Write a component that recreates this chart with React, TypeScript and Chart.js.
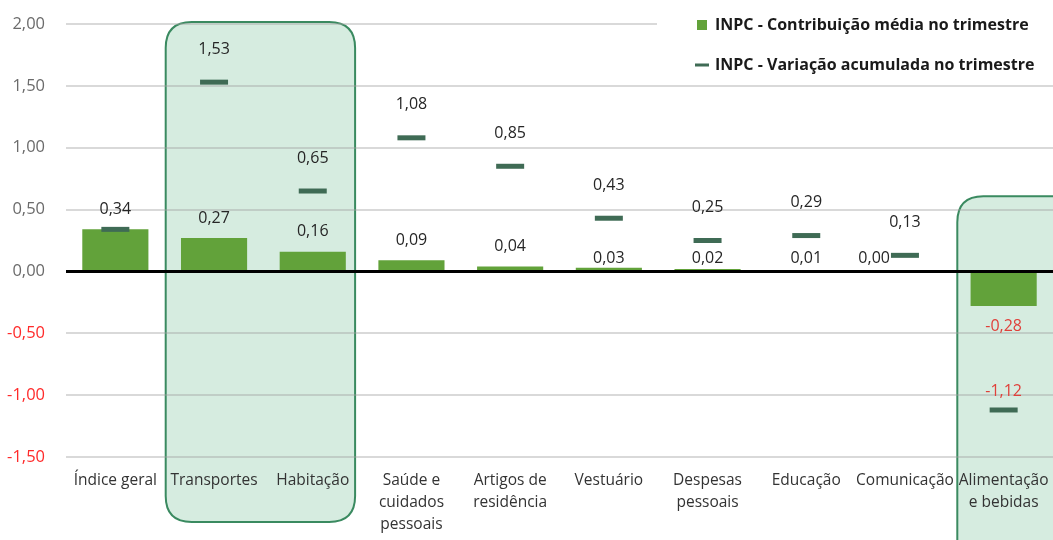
import React, { useEffect, useRef } from "react";
import { Chart, registerables } from "chart.js";

Chart.register(...registerables);

const categories: string[][] = [
  ["Índice geral"],
  ["Transportes"],
  ["Habitação"],
  ["Saúde e", "cuidados", "pessoais"],
  ["Artigos de", "residência"],
  ["Vestuário"],
  ["Despesas", "pessoais"],
  ["Educação"],
  ["Comunicação"],
  ["Alimentação", "e bebidas"],
];
const contribution = [0.34, 0.27, 0.16, 0.09, 0.04, 0.03, 0.02, 0.01, 0.0, -0.28];
const accumulated = [0.34, 1.53, 0.65, 1.08, 0.85, 0.43, 0.25, 0.29, 0.13, -1.12];
const legendLabels = [
  "INPC - Contribuição média no trimestre",
  "INPC - Variação acumulada no trimestre",
];
const yMin = -1.5;
const yMax = 2.0;
const yStep = 0.5;

const BAR_COLOR = "#62a23a";
const DASH_COLOR = "#3f6b55";
const POS_TEXT = "#262626";
const NEG_TEXT = "#e0403a";
const FONT = "'Open Sans', Lato, sans-serif";

const fmt = (v: number) => v.toFixed(2).replace(".", ",");

function roundRect(ctx: CanvasRenderingContext2D, x: number, y: number, w: number, h: number, r: number) {
  ctx.beginPath();
  ctx.moveTo(x + r, y);
  ctx.lineTo(x + w - r, y);
  ctx.quadraticCurveTo(x + w, y, x + w, y + r);
  ctx.lineTo(x + w, y + h - r);
  ctx.quadraticCurveTo(x + w, y + h, x + w - r, y + h);
  ctx.lineTo(x + r, y + h);
  ctx.quadraticCurveTo(x, y + h, x, y + h - r);
  ctx.lineTo(x, y + r);
  ctx.quadraticCurveTo(x, y, x + r, y);
  ctx.closePath();
}

const decorPlugin = {
  id: "decor",
  beforeDraw(chart: any) {
    const { ctx, scales } = chart;
    const xs = scales.x;
    const ys = scales.y;
    ctx.save();
    const boxes = [
      { x0: xs.getPixelForValue(0.5) + 1, x1: xs.getPixelForValue(2.5) - 7, y0: ys.getPixelForValue(2.0) - 2, y1: 522 },
      { x0: xs.getPixelForValue(8.5) + 3, x1: chart.width + 30, y0: ys.getPixelForValue(0.6) - 1, y1: chart.height + 30 },
    ];
    for (const b of boxes) {
      roundRect(ctx, b.x0, b.y0, b.x1 - b.x0, b.y1 - b.y0, 26);
      ctx.fillStyle = "#d6ece0";
      ctx.fill();
      ctx.lineWidth = 2;
      ctx.strokeStyle = "#3a8a60";
      ctx.stroke();
    }
    ctx.restore();
  },
  afterDatasetsDraw(chart: any) {
    const { ctx, scales, chartArea } = chart;
    const ys = scales.y;
    const xs = scales.x;
    const y0 = ys.getPixelForValue(0);
    ctx.save();
    ctx.beginPath();
    ctx.moveTo(chartArea.left, y0);
    ctx.lineTo(chartArea.right, y0);
    ctx.lineWidth = 3;
    ctx.strokeStyle = "#000";
    ctx.stroke();

    ctx.font = `16px ${FONT}`;
    ctx.textAlign = "center";
    ctx.textBaseline = "middle";
    contribution.forEach((v, i) => {
      const cx = xs.getPixelForValue(i);
      const barEnd = ys.getPixelForValue(v);
      const dashY = ys.getPixelForValue(accumulated[i]);
      const text = fmt(v);
      const w = ctx.measureText(text).width;
      let by: number;
      if (v < 0) by = barEnd + 20;
      else if (v <= 0.03) by = y0 - 13;
      else by = barEnd - 20;
      let bx = cx;
      if (Math.abs(by - dashY) < 8) bx = cx - 14 - w / 2 - 1;
      ctx.fillStyle = v < 0 ? NEG_TEXT : POS_TEXT;
      ctx.fillText(text, bx, by);

      const a = accumulated[i];
      const ly = a >= 0 ? dashY - 33 : dashY - 19;
      if (Math.abs(ly - by) < 16 && Math.abs(bx - cx) < w) return;
      ctx.fillStyle = a < 0 ? NEG_TEXT : POS_TEXT;
      ctx.fillText(fmt(a), cx, ly);
    });
    ctx.restore();
  },
  afterDraw(chart: any) {
    const { ctx } = chart;
    ctx.save();
    ctx.fillStyle = "#fff";
    ctx.fillRect(657, 4, chart.width - 657, 76);
    ctx.font = `bold 16px ${FONT}`;
    ctx.textAlign = "left";
    ctx.textBaseline = "middle";
    ctx.fillStyle = BAR_COLOR;
    ctx.fillRect(697, 20, 10, 10);
    ctx.fillStyle = "#1a1a1a";
    ctx.fillText(legendLabels[0], 715, 25);
    ctx.beginPath();
    ctx.moveTo(695, 65);
    ctx.lineTo(709, 65);
    ctx.lineWidth = 3;
    ctx.strokeStyle = DASH_COLOR;
    ctx.stroke();
    ctx.fillStyle = "#1a1a1a";
    ctx.fillText(legendLabels[1], 715, 65);
    ctx.restore();
  },
};

export default function App() {
  const ref = useRef<HTMLCanvasElement | null>(null);
  useEffect(() => {
    document.body.style.margin = "0";
    const canvas = ref.current!;
    const chart = new Chart(canvas, {
      type: "bar",
      data: {
        labels: categories,
        datasets: [
          {
            type: "bar",
            label: legendLabels[0],
            data: contribution,
            backgroundColor: BAR_COLOR,
            categoryPercentage: 1,
            barPercentage: 0.67,
            order: 2,
          },
          {
            type: "line",
            label: legendLabels[1],
            data: accumulated,
            showLine: false,
            pointStyle: "line",
            pointRadius: 14,
            pointHoverRadius: 14,
            pointBorderWidth: 5,
            pointHoverBorderWidth: 5,
            borderColor: DASH_COLOR,
            backgroundColor: DASH_COLOR,
            order: 1,
          } as any,
        ],
      },
      options: {
        responsive: false,
        animation: false,
        layout: { autoPadding: false, padding: { top: 24, right: 0, bottom: 0, left: 0 } },
        plugins: {
          legend: { display: false },
          tooltip: { enabled: false },
        },
        scales: {
          x: {
            grid: { display: false },
            border: { display: false },
            ticks: {
              color: "#333333",
              font: { family: FONT, size: 15.5, lineHeight: 1.42 },
              padding: 5,
              maxRotation: 0,
              autoSkip: false,
            },
            afterFit: (s: any) => {
              s.height = 83;
              s.paddingLeft = 0;
              s.paddingRight = 0;
            },
          },
          y: {
            min: yMin,
            max: yMax,
            border: { display: false },
            grid: {
              drawTicks: false,
              lineWidth: 2,
              color: (c: any) => (c.tick && c.tick.value === 0 ? "rgba(0,0,0,0)" : "rgba(160,160,160,0.4)"),
            },
            ticks: {
              stepSize: yStep,
              padding: 21,
              font: { family: FONT, size: 16.5 },
              color: (c: any) => (c.tick && c.tick.value < 0 ? "#ff2a2a" : "#6b6b6b"),
              callback: (v: any) => fmt(Number(v)),
            },
            afterFit: (s: any) => {
              s.width = 66;
              s.paddingTop = 0;
              s.paddingBottom = 0;
            },
          },
        },
      },
      plugins: [decorPlugin],
    });
    return () => chart.destroy();
  }, []);
  return <canvas ref={ref} width={1053} height={540} style={{ display: "block" }} />;
}
